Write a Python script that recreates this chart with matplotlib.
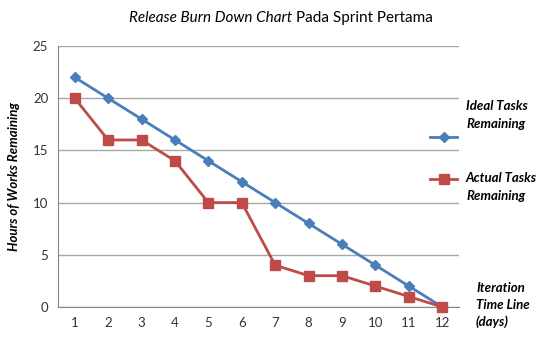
import matplotlib
matplotlib.use("Agg")
import matplotlib.pyplot as plt
from matplotlib.lines import Line2D

plt.rcParams["font.family"] = ["Lato", "DejaVu Sans"]

# ── Data ─────────────────────────────────────────────────────────────────────
days = [1, 2, 3, 4, 5, 6, 7, 8, 9, 10, 11, 12]
ideal = [22, 20, 18, 16, 14, 12, 10, 8, 6, 4, 2, 0]
actual = [20, 16, 16, 14, 10, 10, 4, 3, 3, 2, 1, 0]
y_ticks = [0, 5, 10, 15, 20, 25]

BLUE = "#4A7EBB"
RED = "#BE4B48"
GRID = "#A6A6A6"

fig = plt.figure(figsize=(5.6, 3.43), dpi=100)
ax = fig.add_axes([58 / 560, 1 - 307 / 343, 401 / 560, 261 / 343])

ax.plot(days, ideal, "-D", color=BLUE, linewidth=2, markersize=5,
        zorder=3, clip_on=False)
ax.plot(days, actual, "-s", color=RED, linewidth=2, markersize=7,
        zorder=4, clip_on=False)

ax.set_xlim(0.5, 12.5)
ax.set_ylim(0, 25)
ax.set_xticks(days)
ax.set_yticks(y_ticks)
ax.tick_params(length=0, labelsize=9.5, colors="#333333", pad=7)
ax.yaxis.grid(True, color=GRID, linewidth=1)
ax.set_axisbelow(True)
for side in ["top", "right"]:
    ax.spines[side].set_visible(False)
ax.spines["left"].set_color("#868686")
ax.spines["bottom"].set_color("#868686")

ax.set_ylabel("Hours of Works Remaining", fontsize=9.5, fontweight="bold",
              fontstyle="italic", labelpad=9)

# title: italic part + normal part
fig.text(292 / 560, 1 - 18 / 343, "Release Burn Down Chart", ha="right",
         va="center", fontsize=11, fontstyle="italic")
fig.text(296 / 560, 1 - 18 / 343, "Pada Sprint Pertama", ha="left",
         va="center", fontsize=11)

# legend drawn by hand (Excel style, to the right of the plot)
legend_txt = dict(fontsize=9.5, fontweight="bold", fontstyle="italic",
                  ha="left", va="center", linespacing=1.5)
fig.add_artist(Line2D([430 / 560, 443.5 / 560, 457 / 560], [1 - 137 / 343] * 3,
                      color=BLUE, linewidth=2, marker="D", markersize=5,
                      markevery=[1], transform=fig.transFigure))
fig.add_artist(Line2D([430 / 560, 443.5 / 560, 457 / 560], [1 - 179 / 343] * 3,
                      color=RED, linewidth=2, marker="s", markersize=7,
                      markevery=[1], transform=fig.transFigure))
fig.text(466 / 560, 1 - 115 / 343, "Ideal Tasks\nRemaining", **legend_txt)
fig.text(466 / 560, 1 - 187 / 343, "Actual Tasks\nRemaining", **legend_txt)
fig.text(476 / 560, 1 - 305 / 343, "Iteration\nTime Line\n(days)",
         **legend_txt)

fig.savefig("out.png", dpi=100)
